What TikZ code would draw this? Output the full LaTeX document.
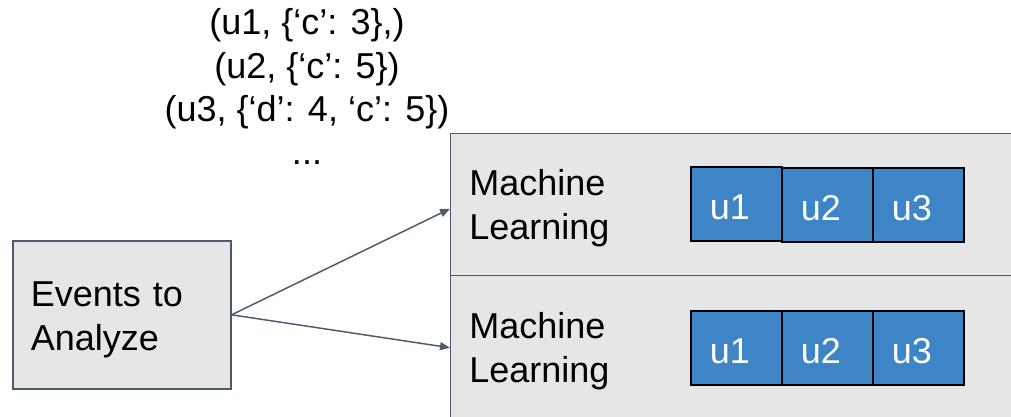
\documentclass[tikz,border=0pt]{standalone}
\usepackage{fontspec}
\setmainfont{Liberation Sans}
\usetikzlibrary{arrows.meta}
\definecolor{panelgray}{HTML}{E6E6E6}
\definecolor{edge}{HTML}{4B5A6E}
\definecolor{cellblue}{HTML}{3D85C6}
\newcommand\pxu{0.75pt}
\begin{document}
\begin{tikzpicture}[x=0.75pt,y=-0.75pt,
  bigtext/.style={font=\fontsize{27pt}{33pt}\selectfont},
  panel/.style={draw=edge, fill=panelgray, line width=1.1pt, rectangle,
    anchor=north west, inner sep=0pt, minimum width=563*\pxu},
  cell/.style={draw=black, fill=cellblue, line width=1.3pt, text=white,
    anchor=north west, minimum width=91*\pxu, minimum height=74*\pxu,
    inner xsep=19*\pxu, inner ysep=0pt, text width=53*\pxu, align=left,
    text height=24pt, text depth=0pt, font=\fontsize{27pt}{33pt}\selectfont},
  link/.style={draw=edge, line width=1.1pt, -{Triangle[length=7.5pt,width=6pt]}}
]
\useasboundingbox (0,0) rectangle (1011,417);

% two processing panels
\node[panel, minimum height=142*\pxu] (ml1) at (450,133) {};
\node[panel, minimum height=144*\pxu] (ml2) at (450,275) {};
\node[bigtext, align=left, anchor=base west, inner sep=0pt] (lbl1) at (469,240) {Machine\\Learning};
\node[bigtext, align=left, anchor=base west, inner sep=0pt] (lbl2) at (469,382) {Machine\\Learning};

% per-user partitions
\node[cell] (a1) at (690,166) {u1};
\node[cell] (a2) at (781,167) {u2};
\node[cell] (a3) at (872,167) {u3};
\node[cell] (b1) at (690,310) {u1};
\node[cell] (b2) at (781,310) {u2};
\node[cell] (b3) at (872,310) {u3};

% input source
\node[draw=edge, fill=panelgray, line width=1.2pt, anchor=north west,
  minimum width=218*\pxu, minimum height=148*\pxu, inner xsep=18*\pxu, inner ysep=0pt,
  text width=182*\pxu, align=left, text height=20pt, text depth=32pt,
  bigtext] (ev) at (12,240) {Events to\\Analyze};

\draw[link] (ev.east) -- ([yshift=-3pt]ml1.west);
\draw[link] (ev.east) -- (ml2.west);

% sample records
\node[align=center, anchor=base, inner sep=0pt, font=\fontsize{27pt}{32.6pt}\selectfont] (recs) at (307,165)
  {(u1, \{‘c’: 3\},)\\(u2, \{‘c’: 5\})\\(u3, \{‘d’: 4, ‘c’: 5\})\\...};
\end{tikzpicture}
\end{document}
